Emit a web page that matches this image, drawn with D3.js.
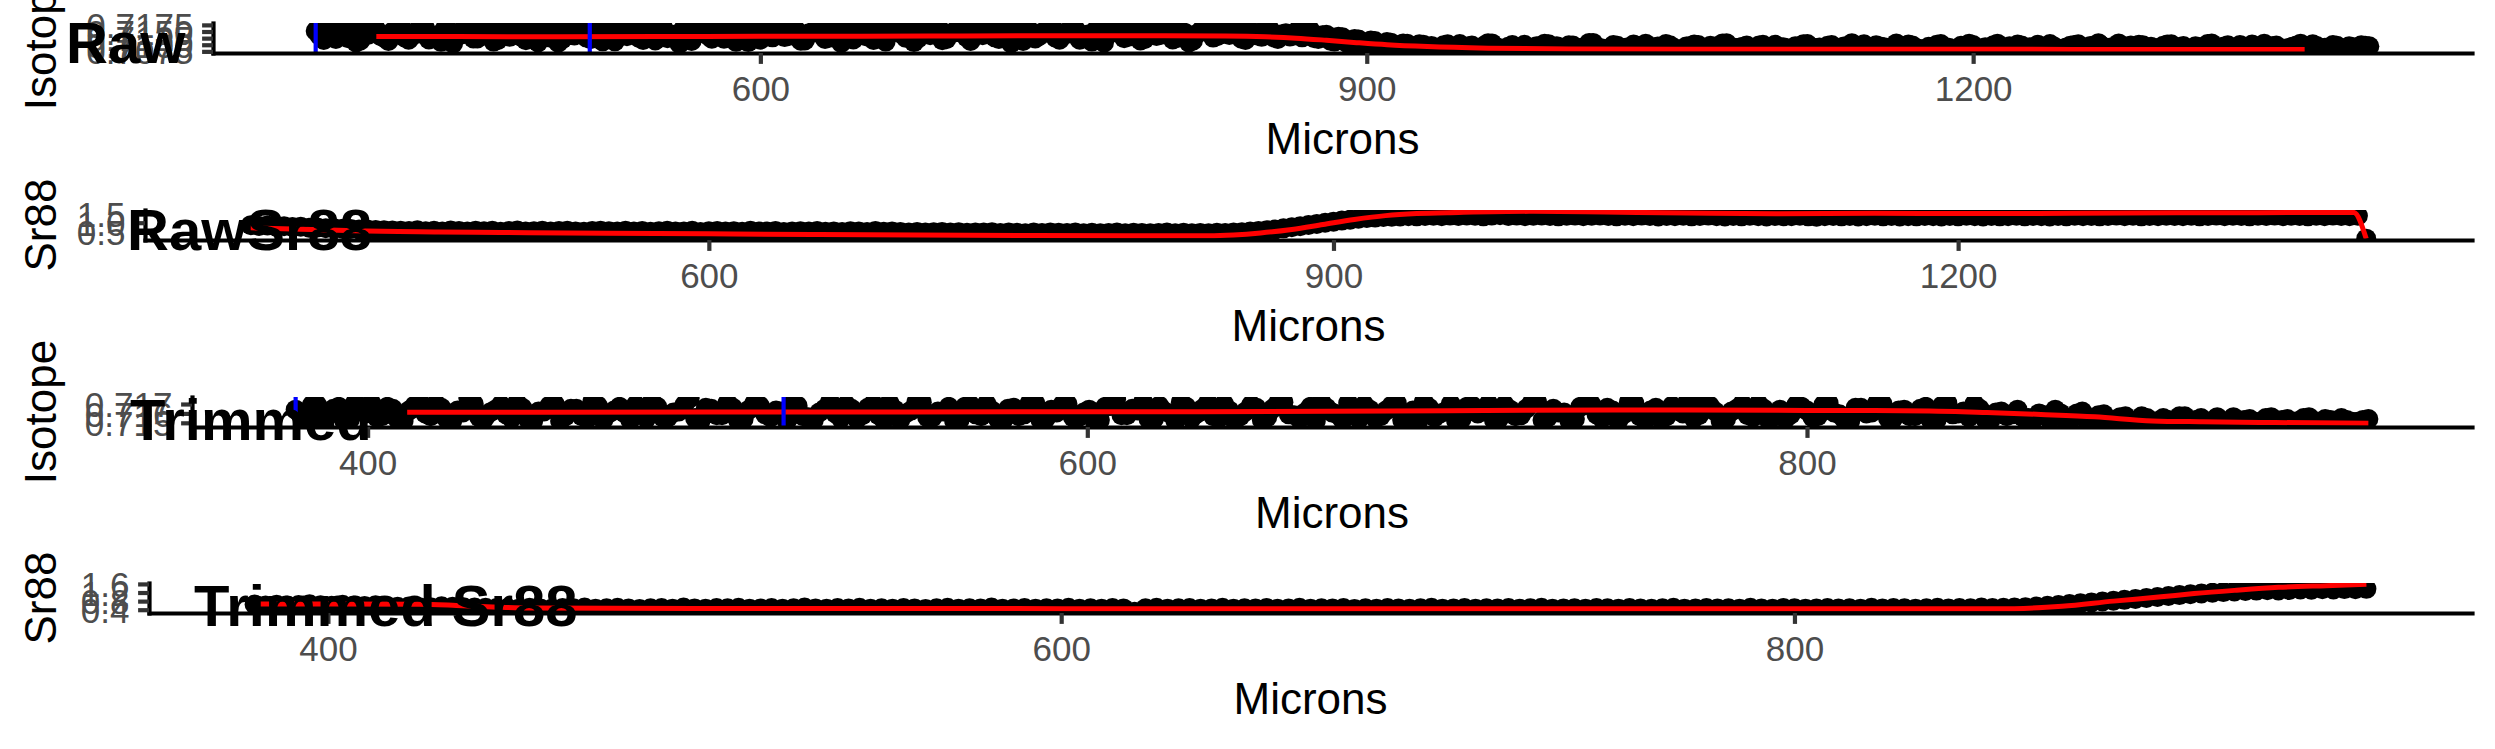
<!DOCTYPE html>
<html><head><meta charset="utf-8">
<script src="https://cdn.jsdelivr.net/npm/d3@7"></script>
<style>html,body{margin:0;padding:0;background:#fff;} svg{display:block;}</style>
</head><body>
<svg id="chart" width="2495" height="749"></svg>
<script>
// ---------------- DATA ----------------
// Raw transect: spots every 4 microns from 380, plus the in-between spots (382, 386, ...)
const rawStartMicron = 380, rawStepMicron = 4, rawMidStartMicron = 382;
const rawIsotope = [
0.7152,0.7118,0.7140,0.7166,0.7125,0.7109,0.7147,0.7171,0.7133,0.7114,
0.7158,0.7128,0.7144,0.7177,0.7120,0.7136,0.7161,0.7105,0.7139,0.7155,
0.7124,0.7169,0.7112,0.7148,0.7130,0.7163,0.7117,0.7142,0.7174,0.7127,
0.7108,0.7151,0.7135,0.7167,0.7121,0.7145,0.7159,0.7113,0.7138,0.7172,
0.7126,0.7149,0.7116,0.7162,0.7134,0.7104,0.7156,0.7141,0.7170,0.7123,
0.7131,0.7165,0.7111,0.7146,0.7157,0.7119,0.7137,0.7175,0.7129,0.7153,
0.7115,0.7143,0.7168,0.7122,0.7150,0.7107,0.7139,0.7164,0.7132,0.7118,
0.7160,0.7144,0.7173,0.7126,0.7110,0.7154,0.7136,0.7166,0.7121,0.7147,
0.7158,0.7114,0.7140,0.7171,0.7128,0.7152,0.7106,0.7135,0.7163,0.7124,
0.7148,0.7176,0.7119,0.7142,0.7157,0.7130,0.7112,0.7161,0.7138,0.7169,
0.7125,0.7145,0.7116,0.7155,0.7133,0.7174,0.7120,0.7150,0.7109,0.7141,
0.7165,0.7127,0.7153,0.7137,0.7162,0.7118,0.7146,0.7130,0.7158,0.7122,
0.7143,0.7135,0.7128,
0.7155,0.7122,0.7138,0.7112,0.7128,0.7105,0.7120,0.7098,0.7114,0.7092,
0.7108,0.7088,0.7104,0.7085,0.7100,
0.7095,0.7082,0.7102,0.7088,0.7078,0.7097,0.7085,0.7106,0.7091,0.7080,
0.7099,0.7086,0.7075,0.7094,0.7104,0.7083,0.7090,0.7098,0.7079,0.7092,
0.7107,0.7087,0.7081,0.7096,0.7089,0.7101,0.7084,0.7077,0.7093,0.7103,
0.7088,0.7082,0.7095,0.7099,0.7086,0.7091,0.7105,0.7080,0.7089,0.7097,
0.7084,0.7100,0.7092,0.7076,0.7087,0.7094,0.7102,0.7083,0.7090,0.7096,
0.7081,0.7093,0.7106,0.7088,0.7085,0.7098,0.7091,0.7079,0.7095,0.7101,
0.7086,0.7082,0.7092,0.7103,0.7089,0.7074,0.7094,0.7099,0.7084,0.7090,
0.7104,0.7087,0.7080,0.7097,0.7091,0.7100,0.7085,0.7093,0.7078,0.7096,
0.7102,0.7088,0.7083,0.7094,0.7090,0.7105,0.7086,0.7081,0.7098,0.7092,
0.7089,0.7101,0.7084,0.7095,0.7077,0.7091,0.7103,0.7087,0.7093,0.7082,
0.7099,0.7090,0.7085,0.7104,0.7094,0.7080,0.7088,0.7097,0.7092,0.7102,
0.7083,0.7089,0.7096,0.7086,0.7091,0.7098,0.7094
];
const rawIsotopeMid = [
0.7134,0.7161,0.7122,0.7145,0.7170,0.7115,0.7138,0.7157,0.7126,0.7149,
0.7173,0.7119,0.7141,0.7164,0.7130,0.7111,0.7153,0.7136,0.7168,0.7124,
0.7146,0.7159,0.7117,0.7140,0.7175,0.7129,0.7151,0.7109,0.7143,0.7166,
0.7121,0.7137,0.7162,0.7127,0.7155,0.7113,0.7148,0.7171,0.7132,0.7158,
0.7118,0.7144,0.7167,0.7125,0.7139,0.7160,0.7114,0.7150,0.7135,0.7172,
0.7123,0.7147,0.7163,0.7110,0.7142,0.7156,0.7128,0.7169,0.7133,0.7152,
0.7116,0.7145,0.7174,0.7126,0.7138,0.7161,0.7120,0.7149,0.7165,0.7131,
0.7112,0.7154,0.7140,0.7170,0.7124,0.7146,0.7158,0.7117,0.7143,0.7167,
0.7129,0.7151,0.7136,0.7176,0.7122,0.7141,0.7162,0.7114,0.7148,0.7133,
0.7157,0.7127,0.7144,0.7168,0.7119,0.7139,0.7155,0.7108,0.7147,0.7164,
0.7130,0.7160,0.7121,0.7150,0.7137,0.7171,0.7125,0.7145,0.7115,0.7153,
0.7166,0.7132,0.7142,0.7158,0.7123,0.7149,0.7135,0.7162,0.7128,0.7140,
0.7131,0.7155,
0.7148,0.7125,0.7136,0.7115,0.7130,0.7108,0.7122,0.7100,0.7116,0.7095,
0.7110,0.7090,0.7105,0.7087,0.7102,0.7092,
0.7090,0.7098,0.7084,0.7103,0.7093,0.7081,0.7096,0.7105,0.7087,0.7092,
0.7079,0.7100,0.7089,0.7085,0.7102,0.7094,0.7082,0.7097,0.7088,0.7107,
0.7091,0.7083,0.7099,0.7086,0.7077,0.7095,0.7104,0.7090,0.7084,0.7098,
0.7080,0.7093,0.7101,0.7087,0.7096,0.7082,0.7106,0.7089,0.7092,0.7078,
0.7097,0.7085,0.7100,0.7091,0.7081,0.7094,0.7103,0.7088,0.7083,0.7099,
0.7086,0.7076,0.7095,0.7102,0.7090,0.7093,0.7080,0.7105,0.7087,0.7097,
0.7084,0.7092,0.7100,0.7089,0.7079,0.7096,0.7104,0.7085,0.7091,0.7098,
0.7082,0.7094,0.7101,0.7088,0.7075,0.7093,0.7103,0.7086,0.7090,0.7099,
0.7083,0.7095,0.7106,0.7087,0.7092,0.7081,0.7097,0.7100,0.7089,0.7084,
0.7096,0.7102,0.7091,0.7078,0.7094,0.7086,0.7105,0.7088,0.7098,0.7082,
0.7093,0.7101,0.7085,0.7090,0.7097,0.7080,0.7092,0.7104,0.7087,0.7095,
0.7089,0.7099,0.7084,0.7094,0.7091,0.7096
];
const rawSr88 = [
0.86,0.82,0.84,0.79,0.80,0.76,0.77,0.72,0.73,0.69,0.68,0.66,0.64,0.62,0.61,0.59,0.58,0.56,
0.55,0.53,0.57,0.52,0.54,0.50,0.56,0.53,0.51,0.55,
0.52,0.54,0.49,0.53,0.56,0.51,0.52,0.55,0.50,0.53,
0.54,0.51,0.49,0.53,0.55,0.52,0.50,0.54,0.51,0.53,
0.49,0.52,0.55,0.50,0.51,0.54,0.48,0.52,0.53,0.50,
0.52,0.49,0.54,0.51,0.50,0.53,0.48,0.51,0.52,0.50,
0.53,0.49,0.51,0.47,0.52,0.50,0.48,0.53,0.49,0.51,
0.47,0.45,0.48,0.44,0.46,0.47,0.44,0.46,0.43,0.45,
0.44,0.46,0.42,0.45,0.43,0.41,0.44,0.42,0.45,0.43,
0.42,0.44,0.41,0.43,0.40,0.42,0.44,0.41,0.43,0.42,
0.40,0.42,0.44,0.41,0.43,0.40,0.42,0.41,0.43,0.42,
0.44,0.46,0.50,0.53,0.58,0.62,0.68,0.74,0.80,0.87,0.93,1.00,1.06,1.12,1.17,1.22,
1.26,1.29,1.32,1.34,1.35,1.37,1.36,1.38,
1.39,1.37,1.40,1.38,1.41,1.39,1.36,1.40,1.42,1.38,
1.40,1.37,1.39,1.41,1.38,1.36,1.39,1.40,1.37,1.39,
1.41,1.38,1.36,1.39,1.37,1.40,1.38,1.35,1.38,1.37,
1.39,1.36,1.38,1.40,1.37,1.35,1.38,1.36,1.39,1.37,
1.35,1.38,1.36,1.37,1.39,1.36,1.34,1.37,1.38,1.36,
1.38,1.35,1.37,1.39,1.36,1.38,1.35,1.37,1.36,1.38,
1.37,1.35,1.38,1.36,1.39,1.37,1.35,1.38,1.36,1.37,
1.39,1.36,1.38,1.37,1.35,1.38,1.36,1.39,1.37,1.38,
1.36,1.38,1.40,1.37,1.39,1.36,1.38,1.37,1.39,1.38,
1.37,1.39,1.36,1.38,1.40,1.37,1.39,1.38,1.36,1.39,
1.38,1.40,1.37,1.39,1.38,1.36,1.39,1.37,1.40,1.38,
1.37,1.39,
0.10
];
// Smoothed (red) curves of the raw transect
const rawIsotopeSmoothMicrons = [410,450,500,550,600,650,700,750,800,830,850,865,880,895,910,930,960,1000,1100,1200,1300,1364];
const rawIsotopeSmooth = [0.7131,0.7131,0.7130,0.7131,0.7132,0.7132,0.7133,0.7134,0.7134,0.7133,0.7130,0.7125,0.7117,0.7108,0.7100,0.7093,0.7087,0.7084,0.7083,0.7083,0.7082,0.7082];
const rawSr88SmoothMicrons = [380,400,430,470,500,550,600,650,700,750,800,840,852,865,880,895,910,925,940,960,994,1030,1070,1113,1160,1200,1232,1280,1330,1370,1390,1396];
const rawSr88Smooth = [0.71,0.65,0.54,0.48,0.45,0.41,0.37,0.34,0.31,0.28,0.27,0.27,0.31,0.42,0.62,0.90,1.18,1.40,1.52,1.58,1.64,1.60,1.55,1.51,1.53,1.52,1.52,1.55,1.56,1.58,1.58,0.10];

// Trimmed transect: spots every 3 microns from 380, plus the in-between spots (381.5, 384.5, ...)
const trimStartMicron = 380, trimStepMicron = 3, trimMidStartMicron = 381.5;
const trimmedIsotope = [
0.7164,0.7155,0.7169,0.7158,0.7167,0.7153,0.7162,0.7171,0.7157,0.7165,
0.7152,0.7168,0.7160,0.7170,0.7154,0.7163,0.7176,0.7156,0.7161,0.7169,
0.7155,0.7166,0.7152,0.7162,0.7170,0.7157,0.7165,0.7154,0.7168,0.7160,
0.7167,0.7153,0.7163,0.7172,0.7156,0.7161,0.7169,0.7155,0.7166,0.7158,
0.7171,0.7152,0.7164,0.7168,0.7156,0.7162,0.7170,0.7157,0.7153,0.7165,
0.7160,0.7169,0.7154,0.7166,0.7158,0.7171,0.7153,0.7163,0.7172,0.7156,
0.7162,0.7152,0.7167,0.7159,0.7170,0.7155,0.7165,0.7157,0.7171,0.7153,
0.7164,0.7169,0.7156,0.7161,0.7152,0.7167,0.7175,0.7158,0.7163,0.7154,
0.7168,0.7160,0.7172,0.7155,0.7165,0.7157,0.7170,0.7152,0.7162,0.7166,
0.7156,0.7171,0.7159,0.7154,0.7167,0.7172,0.7161,0.7153,0.7164,0.7169,
0.7155,0.7163,0.7171,0.7158,0.7152,0.7166,0.7160,0.7170,0.7154,0.7168,
0.7162,0.7153,0.7169,0.7157,0.7165,0.7172,0.7156,0.7161,0.7152,0.7167,
0.7170,0.7155,0.7163,0.7159,0.7171,0.7153,0.7166,0.7157,0.7164,0.7174,
0.7158,0.7168,0.7152,0.7162,0.7170,0.7156,0.7165,0.7160,0.7154,0.7169,
0.7163,0.7157,0.7171,0.7159,0.7152,0.7166,0.7161,0.7170,0.7155,0.7164,
0.7157,0.7167,0.7153,0.7171,0.7160,0.7156,0.7165,0.7153,0.7162,0.7159,
0.7156,0.7154,0.7158,
0.7164,0.7152,0.7160,0.7150,0.7158,0.7149,0.7156,0.7152,0.7157,0.7150,
0.7155,0.7151,0.7157,0.7153,0.7150,0.7156,0.7152,0.7147,0.7154,0.7151,
0.7156,0.7153,0.7149,0.7155,0.7152,0.7154,0.7150,0.7153,0.7151,0.7154
];
const trimmedIsotopeMid = [
0.7158,0.7169,0.7155,0.7165,0.7152,0.7171,0.7160,0.7156,0.7167,0.7153,
0.7163,0.7172,0.7157,0.7166,0.7152,0.7161,0.7170,0.7155,0.7164,0.7159,
0.7171,0.7154,0.7162,0.7168,0.7152,0.7165,0.7157,0.7173,0.7153,0.7163,
0.7160,0.7169,0.7155,0.7167,0.7156,0.7162,0.7176,0.7152,0.7165,0.7158,
0.7166,0.7154,0.7171,0.7159,0.7163,0.7152,0.7168,0.7156,0.7161,0.7172,
0.7155,0.7165,0.7158,0.7170,0.7153,0.7164,0.7160,0.7172,0.7156,0.7162,
0.7167,0.7153,0.7169,0.7157,0.7163,0.7152,0.7166,0.7159,0.7171,0.7155,
0.7161,0.7170,0.7156,0.7164,0.7153,0.7168,0.7158,0.7165,0.7172,0.7154,
0.7162,0.7152,0.7167,0.7160,0.7171,0.7155,0.7163,0.7157,0.7169,0.7153,
0.7165,0.7172,0.7158,0.7161,0.7152,0.7166,0.7159,0.7171,0.7154,0.7164,
0.7157,0.7168,0.7153,0.7163,0.7172,0.7156,0.7162,0.7152,0.7167,0.7160,
0.7170,0.7155,0.7164,0.7158,0.7171,0.7153,0.7165,0.7161,0.7154,0.7169,
0.7159,0.7166,0.7152,0.7172,0.7157,0.7163,0.7153,0.7168,0.7160,0.7155,
0.7171,0.7162,0.7154,0.7165,0.7158,0.7170,0.7152,0.7164,0.7159,0.7167,
0.7156,0.7169,0.7161,0.7153,0.7166,0.7160,0.7171,0.7155,0.7163,0.7157,
0.7165,0.7152,0.7168,0.7159,0.7162,0.7170,0.7154,0.7161,0.7157,0.7164,
0.7155,0.7160,0.7153,
0.7160,0.7155,0.7162,0.7151,0.7159,0.7153,0.7157,0.7150,0.7155,0.7152,
0.7153,0.7157,0.7150,0.7155,0.7152,0.7148,0.7156,0.7153,0.7151,0.7155,
0.7150,0.7154,0.7152,0.7156,0.7149,0.7153,0.7155,0.7151,0.7153
];
const trimmedSr88 = [
0.64,0.60,0.63,0.59,0.62,0.65,0.61,0.58,0.63,0.60,0.57,0.61,0.56,0.54,0.55,0.51,0.52,
0.56,0.54,0.52,0.50,0.49,0.48,
0.48,0.45,0.49,0.46,0.44,0.48,0.47,0.50,0.45,0.47,
0.49,0.46,0.43,0.47,0.48,0.45,0.50,0.46,0.44,0.48,
0.47,0.49,0.45,0.46,0.48,0.44,0.47,0.50,0.46,0.45,
0.48,0.46,0.49,0.44,0.47,0.45,0.48,0.46,0.43,0.47,
0.49,0.45,0.47,0.46,0.50,0.44,0.46,0.48,0.45,0.47,
0.46,0.49,0.44,0.47,0.45,0.48,0.46,0.31,0.47,0.49,
0.45,0.47,0.48,0.44,0.46,0.49,0.45,0.47,0.46,0.48,
0.44,0.46,0.49,0.45,0.47,0.46,0.48,0.43,0.47,0.45,
0.48,0.46,0.44,0.47,0.49,0.45,0.46,0.48,0.44,0.47,
0.46,0.48,0.45,0.47,0.49,0.44,0.46,0.47,0.45,0.48,
0.47,0.45,0.48,0.46,0.44,0.47,0.49,0.45,0.46,0.48,
0.46,0.47,0.45,0.49,0.46,0.44,0.48,0.47,0.45,0.46,
0.48,0.46,0.47,0.45,0.49,0.46,0.48,0.47,0.45,0.47,
0.49,0.46,0.48,0.47,0.50,0.48,0.49,
0.50,0.52,0.55,0.58,0.62,0.66,0.70,0.74,0.78,0.82,0.86,0.90,0.95,0.99,1.04,1.08,1.12,1.16,1.19,1.22,1.25,
1.27,1.29,1.31,1.30,1.32,1.34,1.33,1.35,1.34,1.36,1.35,1.37
];
const trimmedIsotopeSmoothMicrons = [411,450,500,550,631,700,746,800,834,850,865,880,896,910,930,956];
const trimmedIsotopeSmooth = [0.71612,0.71612,0.71614,0.71616,0.71618,0.71628,0.71636,0.71632,0.71626,0.71610,0.71589,0.71564,0.71520,0.71511,0.71503,0.71495];
const trimmedSr88SmoothMicrons = [381,400,425,435,445,455,500,600,700,800,850,860,873,887,900,909,920,932,945,956];
const trimmedSr88Smooth = [0.66,0.66,0.65,0.60,0.53,0.48,0.46,0.45,0.44,0.44,0.44,0.45,0.56,0.80,1.00,1.15,1.30,1.44,1.52,1.58];

// Cut positions (blue lines), microns
const cutMicrons = [380, 515.6];

// Tick values / labels
const xTicksRaw = [600, 900, 1200];
const xTicksTrimmed = [400, 600, 800];
const yTicksRawIsotope = [0.7075, 0.7100, 0.7125, 0.7150, 0.7175];
const yTicksRawSr88 = [0.5, 1.0, 1.5];
const yTicksTrimmedIsotope = [0.715, 0.716, 0.717];
const yTicksTrimmedSr88 = [0.4, 0.8, 1.2, 1.6];
const panelTags = ["Raw", "RawSr88", "Trimmed", "Trimmed Sr88"];
const yTitles = ["Isotope", "Sr88", "Isotope", "Sr88"];
const xTitle = "Microns";

// ---------------- DRAWING ----------------
const svg = d3.select("#chart");
svg.append("rect").attr("width", 2495).attr("height", 749).attr("fill", "#fff");

const seq = (arr, start, step) => arr.map((_, i) => start + i * step);
const rawMicrons = seq(rawIsotope, rawStartMicron, rawStepMicron);
const rawMidMicrons = seq(rawIsotopeMid, rawMidStartMicron, rawStepMicron);
const trimMicrons = seq(trimmedIsotope, trimStartMicron, trimStepMicron);
const trimMidMicrons = seq(trimmedIsotopeMid, trimMidStartMicron, trimStepMicron);

const FONT = "'Liberation Sans', Arial, Helvetica, sans-serif";
const RIGHT = 2472;
const LW = 4.2, TICK = 10.9, R = 10;

const panels = [
  {left:213, top:23, bottom:53,
   pts: d3.zip(rawMicrons, rawIsotope).concat(d3.zip(rawMidMicrons, rawIsotopeMid)),
   lx:rawIsotopeSmoothMicrons, ly:rawIsotopeSmooth,
   xt:xTicksRaw, yt:yTicksRawIsotope, yf:d3.format(".4f"), cuts:cutMicrons, tag:[66,63]},
  {left:145, top:210, bottom:240,
   pts: d3.zip(rawMicrons, rawSr88),
   lx:rawSr88SmoothMicrons, ly:rawSr88Smooth,
   xt:xTicksRaw, yt:yTicksRawSr88, yf:d3.format(".1f"), cuts:[], tag:[127,250]},
  {left:192, top:397, bottom:427,
   pts: d3.zip(trimMicrons, trimmedIsotope).concat(d3.zip(trimMidMicrons, trimmedIsotopeMid)),
   lx:trimmedIsotopeSmoothMicrons, ly:trimmedIsotopeSmooth,
   xt:xTicksTrimmed, yt:yTicksTrimmedIsotope, yf:d3.format(".3f"), cuts:cutMicrons, tag:[130,440]},
  {left:149, top:583, bottom:613,
   pts: d3.zip(trimMicrons, trimmedSr88),
   lx:trimmedSr88SmoothMicrons, ly:trimmedSr88Smooth,
   xt:xTicksTrimmed, yt:yTicksTrimmedSr88, yf:d3.format(".1f"), cuts:[], tag:[194,626]}
];

function padded(vals) {
  const [a, b] = d3.extent(vals);
  const p = (b - a) * 0.05;
  return [a - p, b + p];
}

const tagLayer = [];
panels.forEach((P, k) => {
  const x = d3.scaleLinear().domain(padded(P.pts.map(d => d[0]).concat(P.lx, P.cuts))).range([P.left, RIGHT]);
  const y = d3.scaleLinear().domain(padded(P.pts.map(d => d[1]).concat(P.ly))).range([P.bottom, P.top]);
  const g = svg.append("g");
  const clipId = "clip" + k;
  svg.append("clipPath").attr("id", clipId).append("rect")
    .attr("x", P.left).attr("y", P.top).attr("width", RIGHT - P.left).attr("height", P.bottom - P.top);
  const inner = g.append("g").attr("clip-path", `url(#${clipId})`);
  inner.selectAll("circle").data(P.pts).join("circle")
    .attr("cx", d => x(d[0])).attr("cy", d => y(d[1])).attr("r", R).attr("fill", "#000");
  inner.append("path").datum(d3.zip(P.lx, P.ly))
    .attr("d", d3.line().x(d => x(d[0])).y(d => y(d[1])).curve(d3.curveMonotoneX))
    .attr("fill", "none").attr("stroke", "#ff0000").attr("stroke-width", 5);
  inner.selectAll("line.cut").data(P.cuts).join("line").attr("class", "cut")
    .attr("x1", d => x(d)).attr("x2", d => x(d)).attr("y1", P.top).attr("y2", P.bottom)
    .attr("stroke", "#0000ff").attr("stroke-width", LW);

  // x axis
  const gx = g.append("g").attr("transform", `translate(0,${P.bottom})`)
    .call(d3.axisBottom(x).tickValues(P.xt).tickSize(TICK).tickSizeOuter(0).tickPadding(12.2).tickFormat(d3.format("d")));
  gx.select(".domain").attr("stroke", "#000").attr("stroke-width", LW).attr("stroke-linecap", "square");
  gx.selectAll(".tick line").attr("stroke", "#333").attr("stroke-width", LW);
  gx.selectAll(".tick text").attr("fill", "#4d4d4d").style("font-family", FONT).style("font-size", "35px");

  // y axis
  const gy = g.append("g").attr("transform", `translate(${P.left},0)`)
    .call(d3.axisLeft(y).tickValues(P.yt).tickSize(TICK).tickSizeOuter(0).tickPadding(8.7).tickFormat(P.yf));
  gy.select(".domain").attr("stroke", "#000").attr("stroke-width", LW).attr("stroke-linecap", "square");
  gy.selectAll(".tick line").attr("stroke", "#333").attr("stroke-width", LW);
  gy.selectAll(".tick text").attr("fill", "#4d4d4d").attr("dy", "0.36em").style("font-family", FONT).style("font-size", "35px");

  // titles
  g.append("text").attr("x", (P.left + RIGHT) / 2).attr("y", P.bottom + 101)
    .attr("text-anchor", "middle").style("font-family", FONT).style("font-size", "44px").attr("fill", "#000").text(xTitle);
  const cy = (P.top + P.bottom) / 2;
  g.append("text").attr("x", 56).attr("y", cy).attr("transform", `rotate(-90,56,${cy})`)
    .attr("text-anchor", "middle").style("font-family", FONT).style("font-size", "44px").attr("fill", "#000").text(yTitles[k]);
  tagLayer.push({t: panelTags[k], x: P.tag[0], y: P.tag[1]});
});

svg.append("g").selectAll("text").data(tagLayer).join("text")
  .attr("x", d => d.x).attr("y", d => d.y)
  .style("font-family", FONT).style("font-size", "58px").style("font-weight", "bold")
  .attr("fill", "#000").text(d => d.t);
</script>
</body></html>
